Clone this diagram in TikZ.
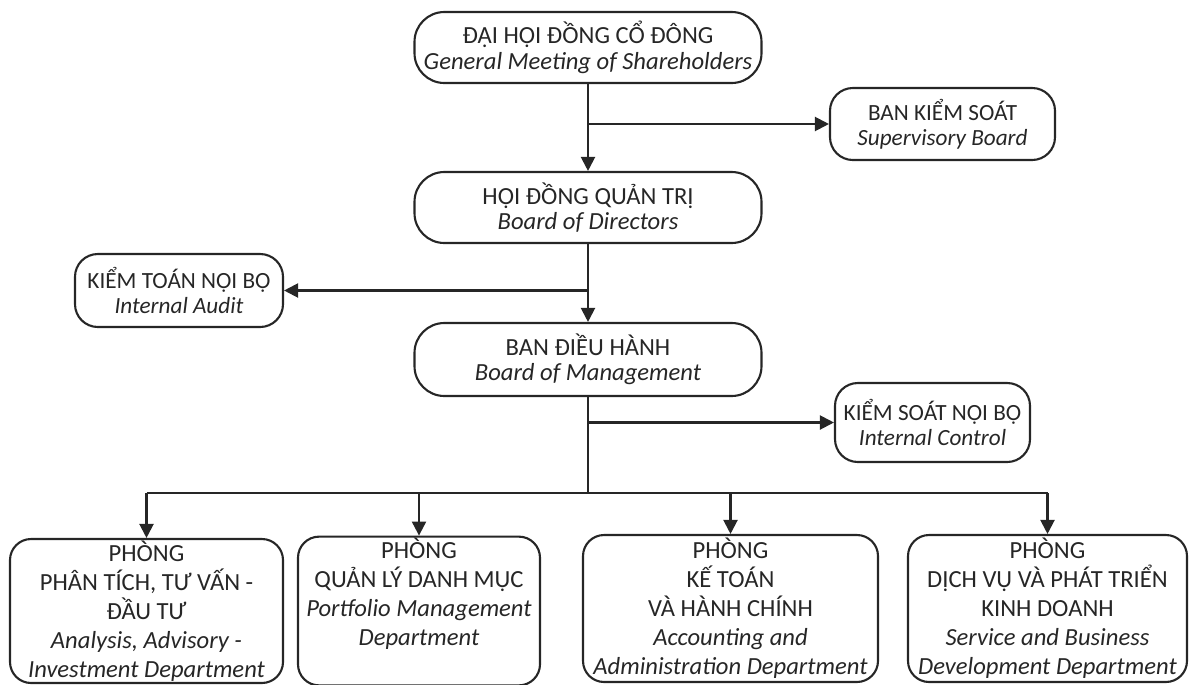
\documentclass[tikz,border=0pt]{standalone}
\usepackage{fontspec}
\setmainfont{Carlito}
\usepackage{tikz}
\usetikzlibrary{positioning, arrows.meta}

\begin{document}
\begin{tikzpicture}[
          font=\fontsize{14}{14.4}\selectfont,
          box/.style={draw=black!85, line width=1.2pt, rounded corners=17pt, align=center, text=black!85, inner sep=1pt},
          side/.style={box, rounded corners=13pt, font=\fontsize{13.2}{14.4}\selectfont},
          dept/.style={box, rounded corners=12pt, font=\fontsize{14}{16.5}\selectfont},
          arr/.style={draw=black!85, line width=1.2pt, -{Triangle[length=8pt,width=8pt]}},
          line/.style={draw=black!85, line width=1.2pt}
      ]
      \useasboundingbox (0,0) rectangle (23.96,-13.68);
      
      \node[box, minimum width=6.94cm, minimum height=1.42cm] (gms) at (11.76,-0.95) {ĐẠI HỘI ĐỒNG CỔ ĐÔNG\\\textit{General Meeting of Shareholders}};
      \node[side, minimum width=4.5cm, minimum height=1.44cm] (sup) at (18.85,-2.48) {BAN KIỂM SOÁT\\\textit{Supervisory Board}};
      \node[box, minimum width=6.94cm, minimum height=1.42cm] (bod) at (11.76,-4.15) {HỘI ĐỒNG QUẢN TRỊ\\\textit{Board of Directors}};
      \node[side, minimum width=4.16cm, minimum height=1.46cm] (audit) at (3.58,-5.81) {KIỂM TOÁN NỘI BỘ\\\textit{Internal Audit}};
      \node[box, minimum width=6.94cm, minimum height=1.46cm] (bom) at (11.76,-7.19) {BAN ĐIỀU HÀNH\\\textit{Board of Management}};
      \node[side, minimum width=3.9cm, minimum height=1.58cm] (ctrl) at (18.65,-8.45) {KIỂM SOÁT NỘI BỘ\\\textit{Internal Control}};
      
      \node[dept, minimum width=5.46cm, minimum height=2.84cm] (dep1) at (2.93,-12.22) {PHÒNG\\PHÂN TÍCH, TƯ VẤN -\\ĐẦU TƯ\\\textit{Analysis, Advisory -}\\\textit{Investment Department}};
      \node[dept, minimum width=4.84cm, minimum height=2.84cm] (dep2) at (8.38,-12.22) {PHÒNG\\QUẢN LÝ DANH MỤC\\\textit{Portfolio Management}\\\textit{Department}\\\strut};
      \node[dept, minimum width=5.9cm, minimum height=2.94cm] (dep3) at (14.61,-12.17) {PHÒNG\\KẾ TOÁN\\VÀ HÀNH CHÍNH\\\textit{Accounting and}\\\textit{Administration Department}};
      \node[dept, minimum width=5.58cm, minimum height=2.94cm] (dep4) at (20.95,-12.17) {PHÒNG\\DỊCH VỤ VÀ PHÁT TRIỂN\\KINH DOANH\\\textit{Service and Business}\\\textit{Development Department}};
      
      \coordinate (bus) at (11.76,-9.86);
      
      \draw[arr] (gms) -- (bod);
      \draw[arr] (gms.south |- sup.west) -- (sup.west);
      \draw[arr] (bod) -- (bom);
      \draw[arr] (bod.south |- audit.east) -- (audit.east);
      \draw[line] (bom.south) -- (bus);
      \draw[arr] (bom.south |- ctrl.west) -- (ctrl.west);
      \draw[line] (bus -| dep1.north) -- (bus -| dep4.north);
      
      \foreach \i in {1,2,3,4} {
          \draw[arr] (bus -| dep\i.north) -- (dep\i.north);
      }
      
      \end{tikzpicture}
\end{document}
